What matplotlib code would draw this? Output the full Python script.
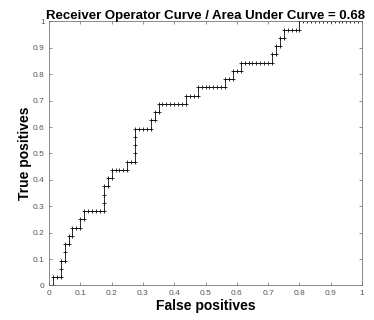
import numpy as np
import matplotlib.pyplot as plt

# counts (80 negatives, 32 positives)
n_neg = 80
n_pos = 32
fp_counts = [0, 1,
             1, 2, 3,
             3,
             3, 4,
             4,
             4, 5,
             5, 6,
             6, 7, 8,
             8, 9,
             9, 10, 11, 12, 13, 14,
             14,
             14,
             14, 15,
             15, 16,
             16, 17, 18, 19, 20,
             20, 21, 22,
             22, 22, 22,
             22, 23, 24, 25, 26,
             26, 27,
             27, 28,
             28, 29, 30, 31, 32, 33, 34, 35,
             35, 36, 37, 38,
             38, 39, 40, 41, 42, 43, 44, 45,
             45, 46, 47,
             47, 48, 49,
             49, 50, 51, 52, 53, 54, 55, 56, 57,
             57, 58,
             58, 59,
             59, 60,
             60, 61, 62, 63, 64,
             64, 65, 66, 67, 68, 69, 70, 71, 72, 73, 74, 75, 76, 77, 78, 79, 80]
tp_counts = [0, 0,
             1, 1, 1,
             2,
             3, 3,
             4,
             5, 5,
             6, 6,
             7, 7, 7,
             8, 8,
             9, 9, 9, 9, 9, 9,
             10,
             11,
             12, 12,
             13, 13,
             14, 14, 14, 14, 14,
             15, 15, 15,
             16, 17, 18,
             19, 19, 19, 19, 19,
             20, 20,
             21, 21,
             22, 22, 22, 22, 22, 22, 22, 22,
             23, 23, 23, 23,
             24, 24, 24, 24, 24, 24, 24, 24,
             25, 25, 25,
             26, 26, 26,
             27, 27, 27, 27, 27, 27, 27, 27, 27,
             28, 28,
             29, 29,
             30, 30,
             31, 31, 31, 31, 31,
             32, 32, 32, 32, 32, 32, 32, 32, 32, 32, 32, 32, 32, 32, 32, 32, 32]
auc = 0.68

fpr = np.array(fp_counts) / n_neg
tpr = np.array(tp_counts) / n_pos

plt.rcParams['font.family'] = ['Liberation Sans', 'DejaVu Sans']

fig = plt.figure(figsize=(3.74, 3.2), dpi=100)
ax = fig.add_axes([0.131, 0.108, 0.837, 0.825])

ax.plot(fpr, tpr, color='#111111', linewidth=0.6, marker='+', markersize=2.2, markeredgewidth=0.6)

ax.set_xlim(0, 1)
ax.set_ylim(0, 1)
ticks = np.arange(0, 1.01, 0.1)
labels = ['0'] + ['%.1f' % t for t in ticks[1:-1]] + ['1']
ax.set_xticks(ticks, labels)
ax.set_yticks(ticks, labels)
ax.tick_params(direction='in', length=2.5, width=0.5, colors='#666666', labelsize=6,
               top=True, right=True, pad=3, labelcolor='#555555')
for s in ax.spines.values():
    s.set_color('#777777')
    s.set_linewidth(0.6)

ax.set_title('Receiver Operator Curve / Area Under Curve = %.2f' % auc,
             fontsize=9.5, fontweight='bold', pad=2)
ax.set_xlabel('False positives', fontsize=10, fontweight='bold', labelpad=2)
ax.set_ylabel('True positives', fontsize=10, fontweight='bold', labelpad=0.5)

fig.savefig('out.png', dpi=100)
